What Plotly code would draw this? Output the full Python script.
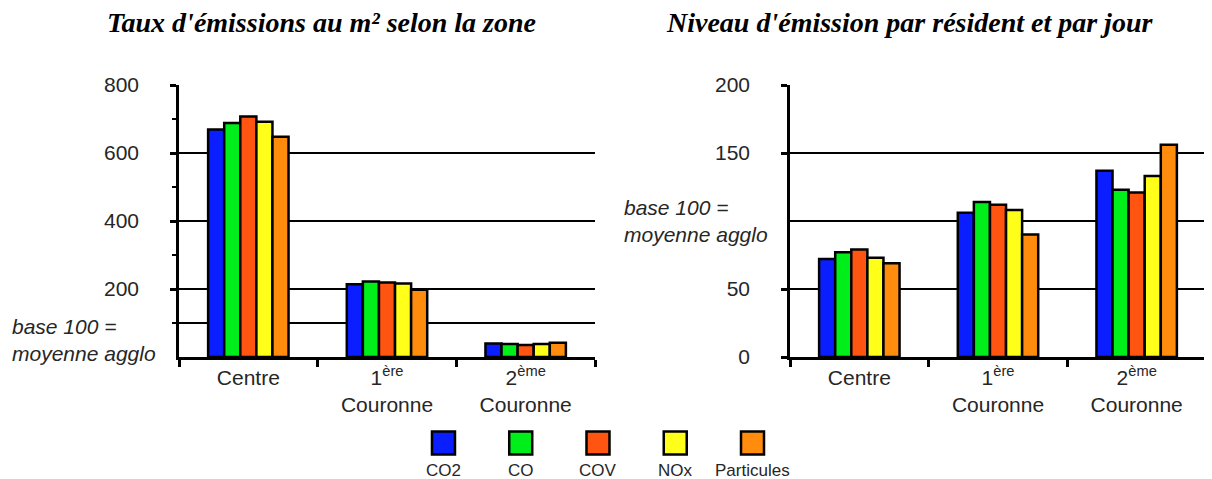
import plotly.graph_objects as go

categories = ["Centre", "1<sup>ère</sup><br>Couronne", "2<sup>ème</sup><br>Couronne"]
series = ["CO2", "CO", "COV", "NOx", "Particules"]
colors = ["#0a1eff", "#00ee1a", "#ff5510", "#ffff1a", "#ff8c0c"]

# Taux d'émissions au m² selon la zone (per series: Centre, 1ère, 2ème)
taux_m2 = {
    "CO2": [669, 214, 40],
    "CO": [688, 222, 38],
    "COV": [707, 219, 35],
    "NOx": [692, 216, 38],
    "Particules": [648, 198, 42],
}
# Niveau d'émission par résident et par jour
niveau_resident = {
    "CO2": [72, 106, 137],
    "CO": [77, 114, 123],
    "COV": [79, 112, 121],
    "NOx": [73, 108, 133],
    "Particules": [69, 90, 156],
}

left_ticks = [200, 400, 600, 800]
left_minor = [100, 300, 500, 700]
right_ticks = [0, 50, 150, 200]
left_grid = [100, 200, 400, 600]
right_grid = [50, 100, 150]

title_left = "Taux d'émissions au m² selon la zone"
title_right = "Niveau d'émission par résident et par jour"
base_label = "base 100 =<br>moyenne agglo"

# page body has an 8px margin; size and place the figure to compensate
OFF = 8
W, H = 1212 - OFF, 479 - OFF


def fx(p):
    return (p - OFF) / W


def fy(p):
    return (H - (p - OFF)) / H


TXT = "#262626"
SANS = "Liberation Sans, Arial, sans-serif"
SERIF = "Liberation Serif, Times New Roman, serif"

fig = go.Figure()
line = dict(color="black", width=2.5)
for s, c in zip(series, colors):
    fig.add_trace(go.Bar(x=categories, y=taux_m2[s], name=s, marker=dict(color=c, line=line),
                         xaxis="x", yaxis="y", showlegend=False))
for s, c in zip(series, colors):
    fig.add_trace(go.Bar(x=categories, y=niveau_resident[s], name=s, marker=dict(color=c, line=line),
                         xaxis="x2", yaxis="y2", showlegend=False))

# legend as a small strip of boxes with labels underneath
fig.add_trace(go.Scatter(x=series, y=[0] * len(series), mode="markers",
                         marker=dict(symbol="square", size=23, color=colors,
                                     line=dict(color="black", width=2.5)),
                         cliponaxis=False, xaxis="x3", yaxis="y3", showlegend=False,
                         hoverinfo="skip"))
for s in series:
    fig.add_annotation(text=s, xref="x3", yref="y3", x=s, y=0, yshift=-27, showarrow=False,
                       xanchor="center", yanchor="middle",
                       font=dict(family=SANS, size=17, color=TXT))

ydom = [fy(357), fy(85)]

xcommon = dict(type="category", showline=True, linecolor="black", linewidth=2.5,
               ticks="outside", tickson="boundaries", ticklen=7, tickwidth=2.5, tickcolor="black",
               tickfont=dict(family=SANS, size=21, color=TXT), showgrid=False, zeroline=False,
               fixedrange=True, automargin=False)
ycommon = dict(showline=True, linecolor="black", linewidth=2.5, ticks="outside", ticklen=6,
               tickwidth=2.5, tickcolor="black", tickfont=dict(family=SANS, size=21, color=TXT),
               showgrid=False, zeroline=False, ticklabelstandoff=27, fixedrange=True,
               automargin=False)

fig.update_layout(
    width=W, height=H,
    margin=dict(l=0, r=0, t=0, b=0, autoexpand=False),
    paper_bgcolor="white", plot_bgcolor="rgba(0,0,0,0)",
    barmode="group", bargap=0.42, bargroupgap=0,
    xaxis=dict(domain=[fx(179), fx(595)], anchor="y", **xcommon),
    yaxis=dict(domain=ydom, anchor="x", range=[0, 800], tickvals=left_ticks,
               minor=dict(tickvals=left_minor, ticks="outside", ticklen=4,
                          tickwidth=2, tickcolor="black"),
               **ycommon),
    xaxis2=dict(domain=[fx(790), fx(1206)], anchor="y2", **xcommon),
    yaxis2=dict(domain=ydom, anchor="x2", range=[0, 200], tickvals=right_ticks, **ycommon),
    xaxis3=dict(domain=[fx(410), fx(792)], anchor="y3", type="category", visible=False,
                fixedrange=True, automargin=False),
    yaxis3=dict(domain=[fy(462), fy(424)], anchor="x3", range=[-1, 1], visible=False,
                fixedrange=True, automargin=False),
)

for v in left_grid:
    fig.add_shape(type="line", xref="x domain", yref="y", x0=0, x1=1, y0=v, y1=v,
                  line=dict(color="black", width=2.2), layer="below")
for v in right_grid:
    fig.add_shape(type="line", xref="x2 domain", yref="y2", x0=0, x1=1, y0=v, y1=v,
                  line=dict(color="black", width=2.2), layer="below")

# titles
fig.add_annotation(text=f"<b><i>{title_left}</i></b>", xref="paper", yref="paper",
                   x=fx(321), y=fy(23), xanchor="center", yanchor="middle", showarrow=False,
                   font=dict(family=SERIF, size=28, color="black"))
fig.add_annotation(text=f"<b><i>{title_right}</i></b>", xref="paper", yref="paper",
                   x=fx(909), y=fy(23), xanchor="center", yanchor="middle", showarrow=False,
                   font=dict(family=SERIF, size=28, color="black"))

# base 100 notes
fig.add_annotation(text=f"<i>{base_label}</i>", xref="paper", yref="paper",
                   x=fx(10), y=fy(340), xanchor="left", yanchor="middle", align="left",
                   showarrow=False, font=dict(family=SANS, size=21, color=TXT))
fig.add_annotation(text=f"<i>{base_label}</i>", xref="paper", yref="paper",
                   x=fx(622), y=fy(221), xanchor="left", yanchor="middle", align="left",
                   showarrow=False, font=dict(family=SANS, size=21, color=TXT))

fig.write_html("out.html")
